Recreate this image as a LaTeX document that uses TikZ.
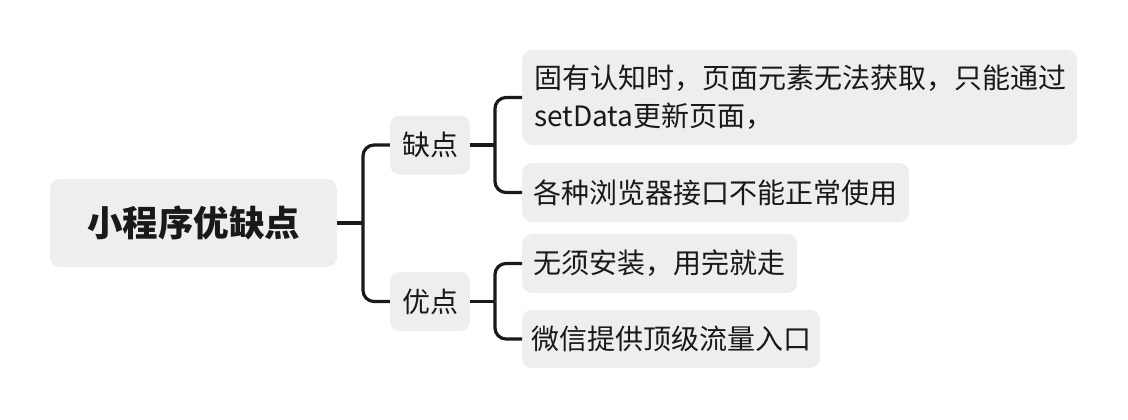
\documentclass[tikz,border=0pt]{standalone}
\usepackage{fontspec}
\setmainfont{Noto Sans CJK SC}
\tikzset{
  box/.style={fill=boxgray, rounded corners=10pt, inner sep=0pt, font=\fontsize{28}{38}\selectfont, text=black!90},
  link/.style={draw=linecol, line width=3.2pt, rounded corners=11pt},
}
\definecolor{boxgray}{HTML}{EEEEEE}
\definecolor{linecol}{HTML}{1A1A1A}
\begin{document}
\begin{tikzpicture}[x=1pt,y=-1pt]
\useasboundingbox (0,0) rectangle (1128,420);
\node[box, minimum width=287pt, minimum height=88pt, font=\fontsize{35.5}{40}\selectfont\bfseries] (root) at (193.5,223) {小程序优缺点};
\node[box, minimum width=80pt, minimum height=59pt] (q) at (430,145) {缺点};
\node[box, minimum width=80pt, minimum height=59pt] (y) at (430,301.5) {优点};
\node[box, minimum width=555pt, minimum height=95pt, anchor=west, align=left, text width=531pt] (c1) at (522,97.5) {固有认知时，页面元素无法获取，只能通过\\setData更新页面，};
\node[box, minimum width=387pt, minimum height=59pt, anchor=west] (c2) at (522,192.5) {各种浏览器接口不能正常使用};
\node[box, minimum width=275pt, minimum height=59pt, anchor=west] (c3) at (522,263.5) {无须安装，用完就走};
\node[box, minimum width=298pt, minimum height=58pt, anchor=west] (c4) at (522,339) {微信提供顶级流量入口};
\coordinate (j1) at (363,223);
\coordinate (j2) at (495,145);
\coordinate (j3) at (495,301.5);
\draw[link] (root.east) -- (j1);
\draw[link] (j1) |- (q.west);
\draw[link] (j1) |- (y.west);
\draw[link] (q.east) -- (j2);
\draw[link] (j2) |- (c1.west);
\draw[link] (j2) |- (c2.west);
\draw[link] (y.east) -- (j3);
\draw[link] (j3) |- (c3.west);
\draw[link] (j3) |- (c4.west);
\end{tikzpicture}
\end{document}
